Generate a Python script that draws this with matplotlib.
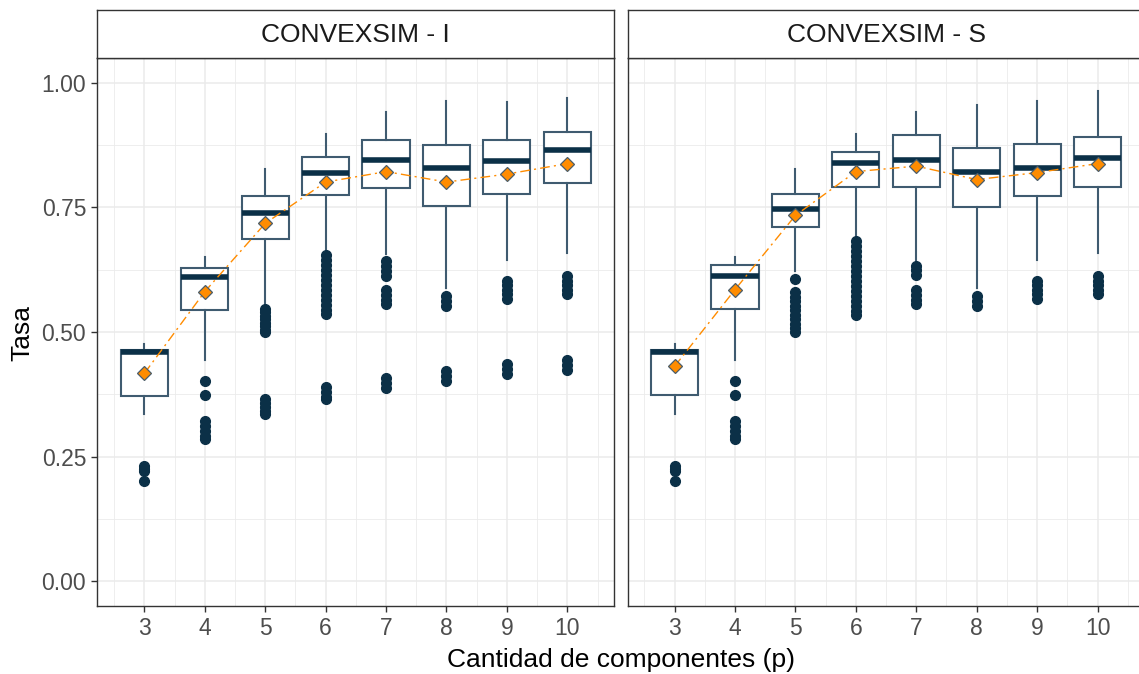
import matplotlib
matplotlib.use("Agg")
import matplotlib.pyplot as plt
import numpy as np

plt.rcParams['font.family'] = ['Liberation Sans', 'DejaVu Sans']

p = [3, 4, 5, 6, 7, 8, 9, 10]
panels = ["CONVEXSIM - I", "CONVEXSIM - S"]

# CONVEXSIM - I
i_q1 = [0.372, 0.545, 0.686, 0.775, 0.789, 0.753, 0.777, 0.800]
i_med = [0.459, 0.610, 0.738, 0.819, 0.846, 0.830, 0.844, 0.865]
i_q3 = [0.463, 0.629, 0.773, 0.852, 0.885, 0.876, 0.885, 0.901]
i_lo = [0.335, 0.443, 0.557, 0.663, 0.656, 0.588, 0.644, 0.658]
i_hi = [0.475, 0.651, 0.828, 0.898, 0.942, 0.963, 0.961, 0.969]
i_mean = [0.417, 0.581, 0.718, 0.801, 0.822, 0.801, 0.817, 0.838]
i_out = [
    [0.232, 0.226, 0.221, 0.200],
    [0.401, 0.374, 0.322, 0.312, 0.302, 0.292, 0.285],
    [0.547, 0.540, 0.533, 0.526, 0.519, 0.512, 0.505, 0.500,
     0.365, 0.358, 0.350, 0.342, 0.335],
    [0.655, 0.645, 0.635, 0.625, 0.615, 0.605, 0.595, 0.585, 0.575,
     0.565, 0.555, 0.545, 0.537, 0.390, 0.380, 0.370, 0.365],
    [0.642, 0.632, 0.622, 0.612, 0.585, 0.575, 0.565, 0.557,
     0.408, 0.398, 0.388],
    [0.573, 0.562, 0.552, 0.422, 0.412, 0.402],
    [0.603, 0.594, 0.585, 0.576, 0.567, 0.435, 0.425, 0.416],
    [0.612, 0.603, 0.594, 0.585, 0.577, 0.443, 0.433, 0.423],
]

# CONVEXSIM - S
s_q1 = [0.374, 0.547, 0.710, 0.791, 0.791, 0.751, 0.773, 0.791]
s_med = [0.460, 0.613, 0.746, 0.840, 0.846, 0.822, 0.830, 0.849]
s_q3 = [0.463, 0.634, 0.778, 0.862, 0.895, 0.870, 0.878, 0.892]
s_lo = [0.335, 0.443, 0.622, 0.690, 0.643, 0.588, 0.644, 0.658]
s_hi = [0.475, 0.651, 0.828, 0.898, 0.942, 0.955, 0.963, 0.983]
s_mean = [0.431, 0.585, 0.734, 0.822, 0.833, 0.806, 0.820, 0.838]
s_out = [
    [0.232, 0.226, 0.221, 0.200],
    [0.401, 0.373, 0.322, 0.312, 0.302, 0.292, 0.285],
    [0.606, 0.580, 0.571, 0.562, 0.553, 0.544, 0.535, 0.526, 0.517,
     0.508, 0.500],
    [0.682, 0.672, 0.662, 0.652, 0.642, 0.632, 0.622, 0.612, 0.602,
     0.592, 0.582, 0.572, 0.562, 0.552, 0.543, 0.535],
    [0.633, 0.624, 0.615, 0.585, 0.575, 0.565, 0.557],
    [0.573, 0.562, 0.552],
    [0.603, 0.594, 0.585, 0.576, 0.567],
    [0.612, 0.603, 0.594, 0.585, 0.577],
]

data = [
    (i_q1, i_med, i_q3, i_lo, i_hi, i_mean, i_out),
    (s_q1, s_med, s_q3, s_lo, s_hi, s_mean, s_out),
]

navy = "#0b3047"
edge = "#3f5b70"
orange = "#FF8C00"

fig = plt.figure(figsize=(11.39, 6.74), dpi=100)
W, H = 1139, 674
panel_left = [97.3, 627.5]
pw = 517.1
top, bottom = 58, 606
strip_top = 10

for k in range(2):
    q1, med, q3, lo, hi, mean, out = data[k]
    ax = fig.add_axes([panel_left[k] / W, (H - bottom) / H, pw / W, (bottom - top) / H])
    stats = []
    for j in range(len(p)):
        stats.append(dict(med=med[j], q1=q1[j], q3=q3[j], whislo=lo[j],
                          whishi=hi[j], fliers=out[j], mean=mean[j]))
    ax.bxp(stats, positions=p, widths=0.78, showcaps=False, patch_artist=True,
           boxprops=dict(facecolor="white", edgecolor=edge, linewidth=1.5),
           whiskerprops=dict(color=edge, linewidth=1.5),
           medianprops=dict(color=navy, linewidth=4, solid_capstyle="butt"),
           flierprops=dict(marker="o", markerfacecolor=navy, markeredgecolor=navy,
                           markersize=7, linestyle="none"),
           manage_ticks=False, zorder=3)
    ax.plot(p, mean, color=orange, linewidth=1, linestyle=(0, (7, 3, 1.5, 3)), zorder=4)
    ax.plot(p, mean, linestyle="none", marker="D", markersize=7.5,
            markerfacecolor=orange, markeredgecolor="#4a5d6a", markeredgewidth=0.9,
            zorder=5)

    ax.set_xlim(2.221, 10.779)
    ax.set_ylim(-0.05, 1.05)
    ax.set_xticks(p)
    ax.set_xticks(np.arange(2.5, 11, 1), minor=True)
    ax.set_yticks([0, 0.25, 0.5, 0.75, 1.0])
    ax.set_yticks([0.125, 0.375, 0.625, 0.875], minor=True)
    ax.grid(True, which="major", color="#ebebeb", linewidth=1.1, zorder=0)
    ax.grid(True, which="minor", color="#ebebeb", linewidth=0.6, zorder=0)
    ax.set_axisbelow(True)
    for s in ax.spines.values():
        s.set_color("#333333")
        s.set_linewidth(1.0)
    ax.tick_params(which="minor", length=0)
    ax.tick_params(which="major", length=4, color="#333333", width=1,
                   labelsize=16.5, labelcolor="#4d4d4d", pad=4)
    if k == 0:
        ax.set_yticklabels(["0.00", "0.25", "0.50", "0.75", "1.00"])
    else:
        ax.tick_params(axis="y", left=False, labelleft=False)

    sax = fig.add_axes([panel_left[k] / W, (H - top) / H, pw / W, (top - strip_top) / H])
    sax.set_xticks([])
    sax.set_yticks([])
    sax.set_facecolor("white")
    for s in sax.spines.values():
        s.set_color("#333333")
        s.set_linewidth(1.0)
    sax.text(0.5, 0.47, panels[k], ha="center", va="center", fontsize=19,
             color="#1a1a1a", transform=sax.transAxes)

fig.text(621 / W, 1 - 660 / H, "Cantidad de componentes (p)",
         ha="center", va="center", fontsize=19, color="black")
fig.text(22 / W, 1 - 333 / H, "Tasa", rotation=90, ha="center", va="center",
         fontsize=19, color="black")

fig.savefig("out.png", dpi=100)
